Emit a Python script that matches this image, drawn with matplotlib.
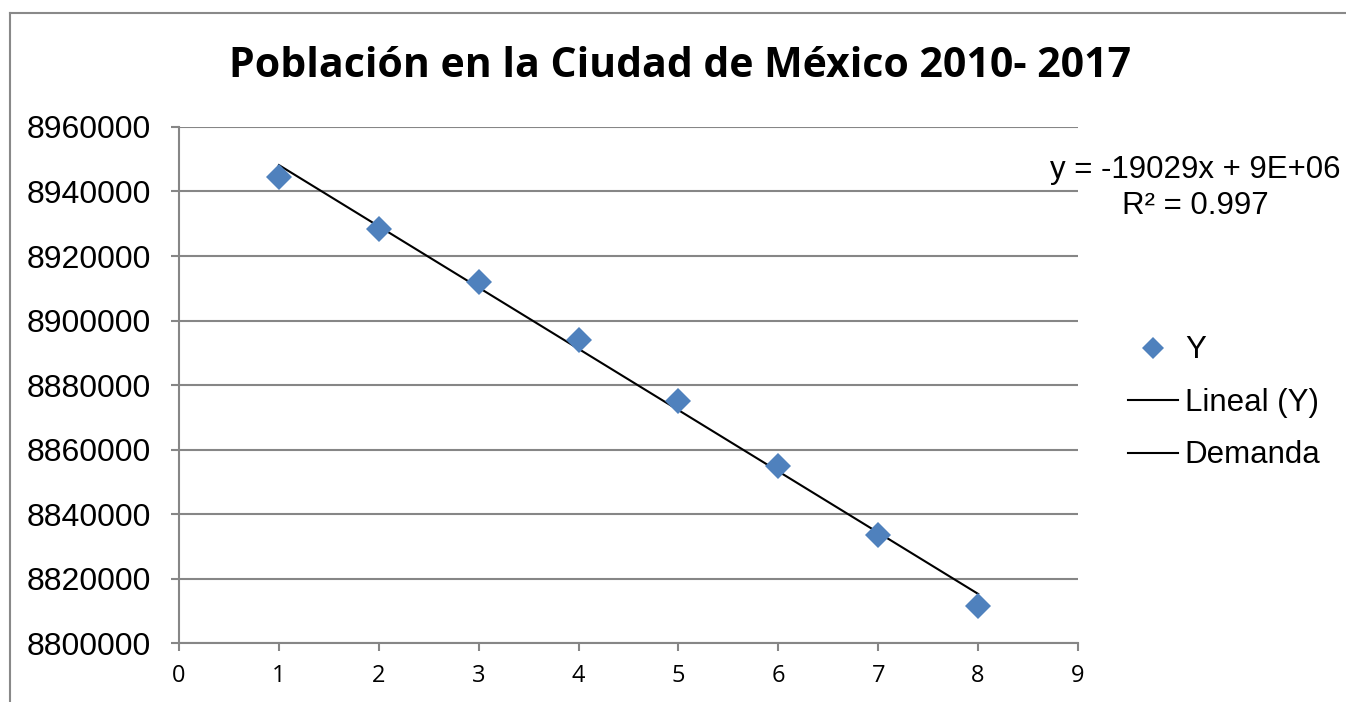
import numpy as np
import matplotlib.pyplot as plt
from matplotlib.lines import Line2D

# Población por año (1 = 2010 ... 8 = 2017)
x = np.array([1, 2, 3, 4, 5, 6, 7, 8])
y = np.array([8944500, 8928400, 8911900, 8894000, 8875000, 8854900, 8833500, 8811500])

yticks = np.arange(8800000, 8960001, 20000)
xticks = np.arange(0, 10, 1)

blue = '#4F81BD'
gray = '#868686'

fig = plt.figure(figsize=(13.46, 7.02), dpi=100)
ax = fig.add_axes([0.1330, 0.0840, 0.6679, 0.7351])

# linear trend
m, b = np.polyfit(x, y, 1)
xf = np.array([x.min(), x.max()])
ax.plot(xf, m * xf + b, color='black', lw=1.5, zorder=3, label='Lineal (Y)')
ax.plot(x, y, 'D', color=blue, ms=13, mew=0, zorder=4, label='Y')
ax.plot([], [], color='black', lw=1.5, label='Demanda')

ax.set_xlim(0, 9)
ax.set_ylim(8800000, 8960000)
ax.set_xticks(xticks)
ax.set_yticks(yticks)
ax.set_yticklabels([str(v) for v in yticks], fontfamily='Liberation Sans', fontsize=23)
ax.set_xticklabels([str(v) for v in xticks], fontfamily='Open Sans', fontsize=17)
ax.grid(axis='y', color=gray, lw=1.5)
ax.set_axisbelow(True)
for s in ['top', 'right']:
    ax.spines[s].set_visible(False)
for s in ['left', 'bottom']:
    ax.spines[s].set_color(gray)
    ax.spines[s].set_linewidth(1.5)
ax.tick_params(axis='both', colors=gray, length=6, width=1.5, labelcolor='black')
ax.tick_params(axis='y', pad=14)
ax.tick_params(axis='x', pad=9)

fig.text(0.505, 0.905, 'Población en la Ciudad de México 2010- 2017',
         ha='center', va='center', fontfamily='Open Sans', fontweight='bold', fontsize=29.5)

fig.text(0.888, 0.732, 'y = -19029x + 9E+06\nR² = 0.997', ha='center', va='center',
         fontfamily='Liberation Sans', fontsize=22.5, linespacing=1.25)

handles = [
    Line2D([], [], marker='D', color=blue, ls='none', ms=11, mew=0),
    Line2D([], [], color='black', lw=1.5),
    Line2D([], [], color='black', lw=1.5),
]
leg = fig.legend(handles, ['Y', 'Lineal (Y)', 'Demanda'], loc='center left',
                 bbox_to_anchor=(0.838, 0.426), frameon=False,
                 prop={'family': 'Liberation Sans', 'size': 22.5},
                 handlelength=1.6, handletextpad=0.22, labelspacing=0.72,
                 borderpad=0, borderaxespad=0)

# chart area border
fig.add_artist(Line2D([10 / 1346, 1], [1 - 13 / 702] * 2, color='#898989', lw=1.5,
                      transform=fig.transFigure))
fig.add_artist(Line2D([10 / 1346] * 2, [0, 1 - 13 / 702], color='#898989', lw=1.5,
                      transform=fig.transFigure))

fig.savefig('out.png', dpi=100)
